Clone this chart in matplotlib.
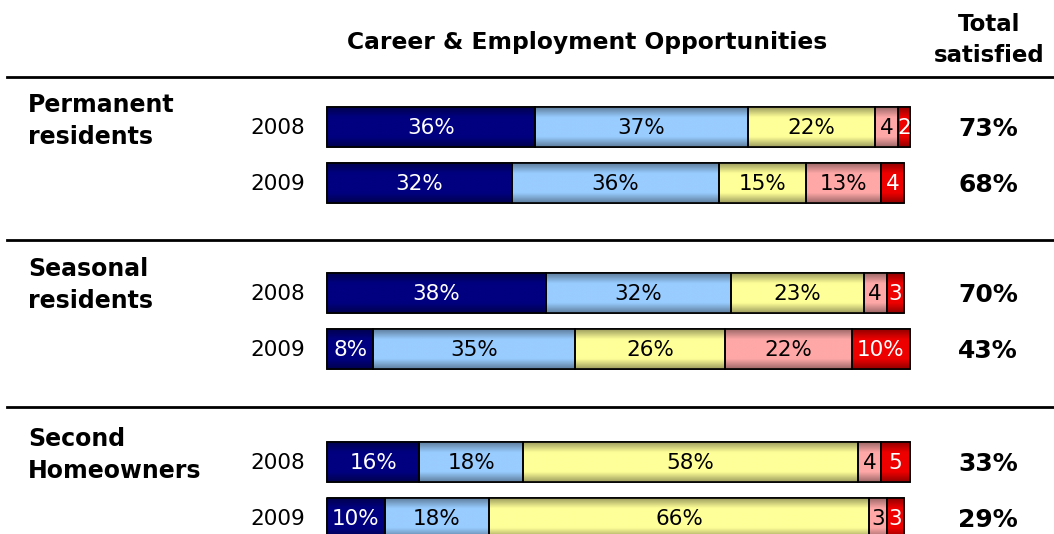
import numpy as np
import matplotlib
matplotlib.use("Agg")
import matplotlib.pyplot as plt
from matplotlib.colors import LinearSegmentedColormap, to_rgb

# data
groups = ["Permanent\nresidents", "Seasonal\nresidents", "Second\nHomeowners"]
years = ["2008", "2009"]
very_satisfied = [36, 32, 38, 8, 16, 10]
satisfied = [37, 36, 32, 35, 18, 18]
neutral = [22, 15, 23, 26, 58, 66]
dissatisfied = [4, 13, 4, 22, 4, 3]
very_dissatisfied = [2, 4, 3, 10, 5, 3]
total_satisfied = [73, 68, 70, 43, 33, 29]

series = [very_satisfied, satisfied, neutral, dissatisfied, very_dissatisfied]
colors = ["#000080", "#99CCFF", "#FFFF99", "#FFA8A8", "#EE0000"]
text_colors = ["white", "black", "black", "black", "white"]

fig = plt.figure(figsize=(10.54, 5.34), dpi=100)
ax = fig.add_axes([0, 0, 1, 1])
# x in percent: 0% at px 327, 100% at px 905
px = 5.77
ax.set_xlim(-327 / px, (1054 - 327) / px)
ax.set_ylim(534, 0)
ax.axis("off")

# row centres (pixel-like units on the y axis)
group_y = [127, 293, 462]
ypos = []
for g in range(3):
    for r in range(2):
        ypos.append(group_y[g] + r * 56)
bar_h = 40


def grad_cmap(c):
    rgb = np.array(to_rgb(c))
    dark = rgb * 0.62
    return LinearSegmentedColormap.from_list("g", [dark, rgb, rgb, rgb, dark])


grad = np.linspace(0, 1, 64).reshape(-1, 1)

for i in range(6):
    left = 0
    for k, vals in enumerate(series):
        v = vals[i]
        b = ax.barh(ypos[i], v, left=left, height=bar_h, color=colors[k],
                    edgecolor="black", linewidth=1.2, zorder=2)[0]
        im = ax.imshow(grad, cmap=grad_cmap(colors[k]), aspect="auto",
                       extent=(left, left + v, ypos[i] + bar_h / 2, ypos[i] - bar_h / 2),
                       zorder=2.5, interpolation="bicubic")
        im.set_clip_path(b)
        ax.barh(ypos[i], v, left=left, height=bar_h, color="none",
                edgecolor="black", linewidth=1.2, zorder=3)
        lab = f"{v}%" if v >= 8 else f"{v}"
        ax.text(left + v / 2, ypos[i] + 1, lab, ha="center", va="center",
                fontsize=15.5, color=text_colors[k], zorder=4)
        left += v
    ax.text(-3.8, ypos[i] + 1, years[i % 2], ha="right", va="center", fontsize=15.5)
    ax.text(114.6, ypos[i] + 2, f"{total_satisfied[i]}%", ha="center", va="center",
            fontsize=18, fontweight="bold")

for g, dy in zip(range(3), [-6, -8, -7]):
    ax.text(-51.8, group_y[g] + dy, groups[g], ha="left", va="center",
            fontsize=17, fontweight="bold", linespacing=1.4)

# separator lines
for yl in [77, 240, 407]:
    ax.plot([-55.5, 125.8], [yl, yl], color="black", linewidth=2, zorder=1)

ax.text(45, 43, "Career & Employment Opportunities", ha="center", va="center",
        fontsize=16.8, fontweight="bold")
ax.text(114.8, 40, "Total\nsatisfied", ha="center", va="center",
        fontsize=16.5, fontweight="bold", linespacing=1.4)

fig.savefig("out.png", dpi=100)
